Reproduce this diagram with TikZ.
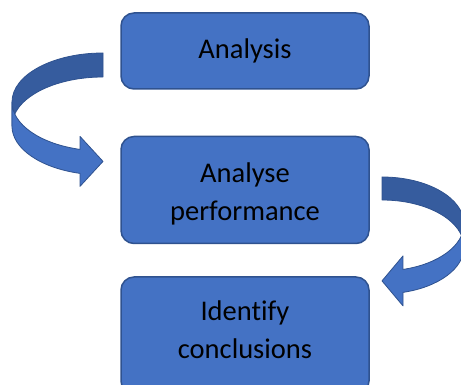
\documentclass[tikz,border=0pt]{standalone}
\usepackage{fontspec}
\setmainfont[Ligatures=NoCommon]{Carlito}
\usepackage{tikz}
\usetikzlibrary{positioning}

\definecolor{boxblue}{RGB}{68, 114, 196}
\definecolor{boxedge}{RGB}{47, 82, 143}
\definecolor{backblue}{RGB}{54, 92, 158}

\tikzset{
  stagebox/.style={draw=boxedge, fill=boxblue, line width=1.5pt, rounded corners=13pt,
    minimum width=248pt, align=center, font=\fontsize{28.5}{38}\selectfont},
  bandback/.style={fill=backblue, draw=boxedge, line width=0.8pt, line join=round},
  bandfront/.style={fill=boxblue, draw=boxedge, line width=0.8pt, line join=round}
}

\begin{document}
\begin{tikzpicture}[x=1pt, y=1pt]
  \useasboundingbox (0,0) rectangle (461,385);
  \clip (0,0) rectangle (461,385);

  % Stages
  \node[stagebox, minimum height=76pt] (analysis) at (245, 334) {Analysis};
  \node[stagebox, minimum height=107pt, below=46pt of analysis] (perf) {\rule{0pt}{27pt}Analyse\\performance};
  \node[stagebox, minimum height=117pt, below=32pt of perf] (concl) {Identify\\conclusions\rule[-11pt]{0pt}{11pt}};

  % Curved arrow on the left (back of the band, then the front with its head)
  \draw[bandback] (103,332) arc[start angle=90, end angle=180, x radius=91pt, y radius=49pt]
    -- (12,259) arc[start angle=180, end angle=90, x radius=91pt, y radius=49pt] -- cycle;
  \draw[bandfront] (12,283) arc[start angle=180, end angle=255.4, x radius=91pt, y radius=49pt]
    -- (80,248.6) -- (103,223.6) -- (80,198.6) -- (80,211.6)
    arc[start angle=255.4, end angle=180, x radius=91pt, y radius=49pt] -- cycle;

  % Curved arrow on the right
  \draw[bandback] (382,208) arc[start angle=90, end angle=0, x radius=82pt, y radius=47pt]
    -- (464,138) arc[start angle=0, end angle=90, x radius=82pt, y radius=47pt] -- cycle;
  \draw[bandfront] (464,161) arc[start angle=0, end angle=-75.2, x radius=82pt, y radius=47pt]
    -- (403,129.1) -- (382,104.1) -- (403,79.1) -- (403,92.6)
    arc[start angle=-75.2, end angle=0, x radius=82pt, y radius=47pt] -- cycle;
\end{tikzpicture}
\end{document}
